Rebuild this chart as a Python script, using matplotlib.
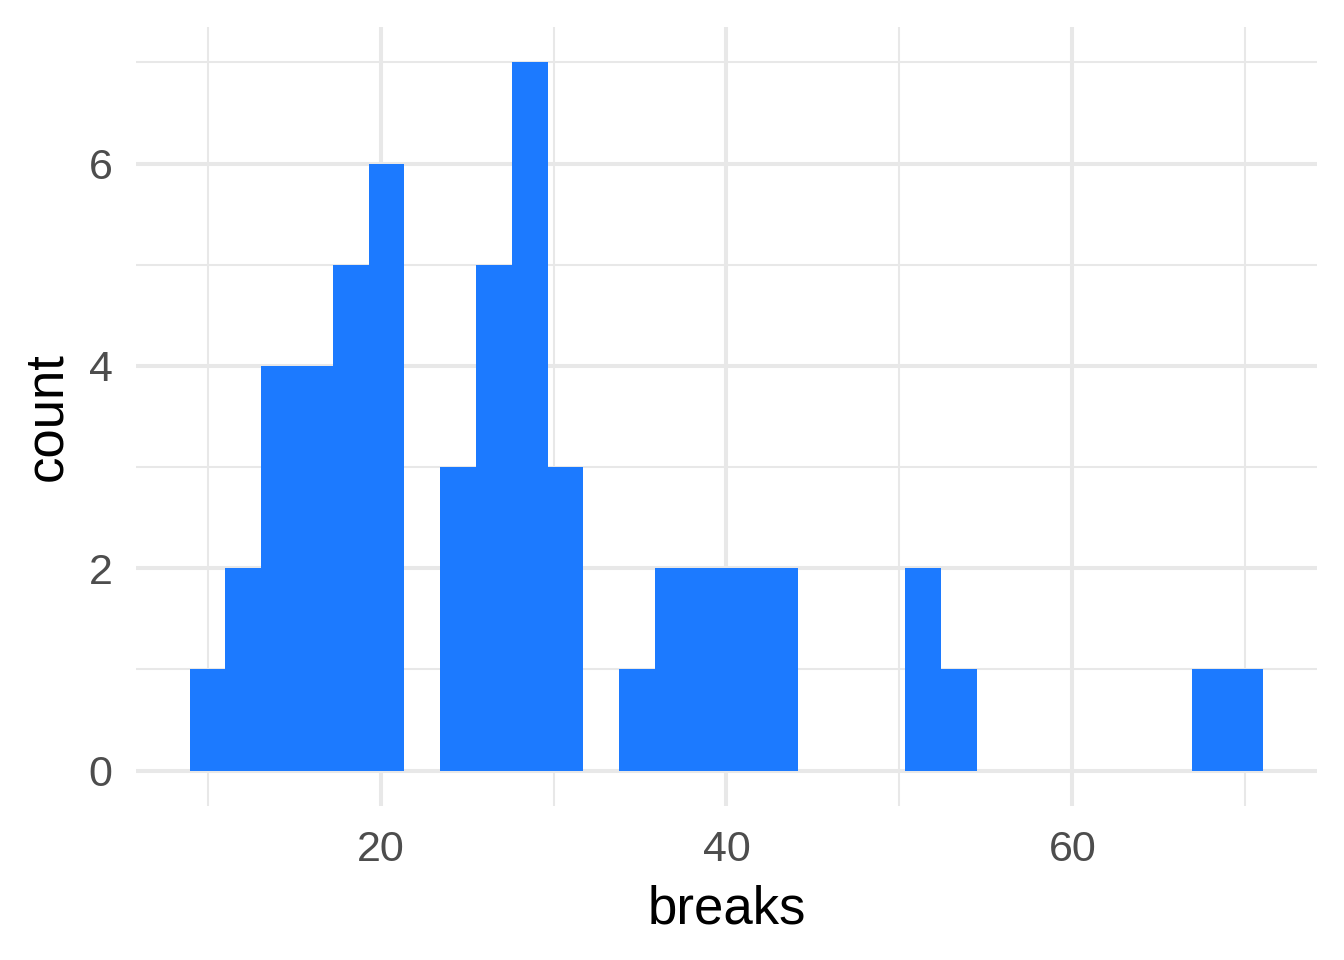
import matplotlib.pyplot as plt
import numpy as np

plt.rcParams['font.family'] = ['Liberation Sans', 'DejaVu Sans']

# warpbreaks$breaks, 30 bins as ggplot draws them
breaks_min = 10
breaks_max = 70
n_bins = 30
counts = [1, 2, 4, 4, 5, 6, 0, 3, 5, 7, 3, 0, 1, 2, 2, 2, 2, 0, 0, 0,
          2, 1, 0, 0, 0, 0, 0, 0, 1, 1]

width = (breaks_max - breaks_min) / (n_bins - 1)
edges = breaks_min - width / 2 + width * np.arange(n_bins + 1)

fig = plt.figure(figsize=(13.44, 9.6), dpi=100)
ax = fig.add_axes([0.1012, 0.1604, 0.8787, 0.8115])

ax.bar(edges[:-1], counts, width=width, align='edge', color='#1c7aff',
       linewidth=0, zorder=2)

span = edges[-1] - edges[0]
ax.set_xlim(edges[0] - 0.05 * span, edges[-1] + 0.05 * span)
ax.set_ylim(-0.35, 7.35)

ax.set_xticks([20, 40, 60])
ax.set_xticks([10, 30, 50, 70], minor=True)
ax.set_yticks([0, 2, 4, 6])
ax.set_yticks([1, 3, 5, 7], minor=True)
ax.grid(which='major', color='#e8e8e8', linewidth=2.9, zorder=0)
ax.grid(which='minor', color='#e8e8e8', linewidth=1.5, zorder=0)
ax.set_axisbelow(True)

for s in ax.spines.values():
    s.set_visible(False)
ax.tick_params(which='both', length=0, labelsize=31, colors='#4d4d4d')
ax.tick_params(axis='x', pad=17)
ax.tick_params(axis='y', pad=17)

ax.set_xlabel('breaks', fontsize=38, labelpad=11)
ax.set_ylabel('count', fontsize=38, labelpad=12)

fig.savefig('out.png', dpi=100, facecolor='white')
